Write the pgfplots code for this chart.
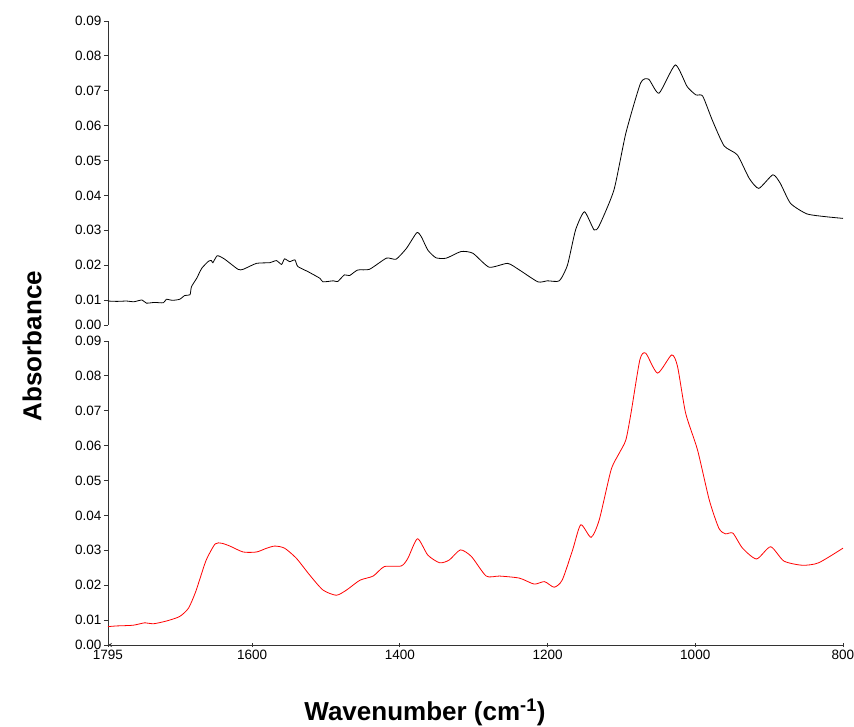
\documentclass[border=0pt]{standalone}
\usepackage{fontspec}
\setmainfont{Liberation Sans}
\usepackage{pgfplots}
\pgfplotsset{compat=1.18}
\begin{document}
\begin{tikzpicture}[x=1pt,y=1pt]
\useasboundingbox (0,0) rectangle (854,726);
\pgfplotsset{
  panel/.style={
    anchor=south west, scale only axis, width=735pt, height=304pt,
    xmin=800, xmax=1795, x dir=reverse,
    ymin=0.00283, ymax=0.09,
    scaled y ticks=false, scaled x ticks=false,
    axis y line=left, axis line style={-, line width=0.8pt, black!80},
    ytick={0.00283,0.01,0.02,0.03,0.04,0.05,0.06,0.07,0.08,0.09},
    yticklabels={0.00,0.01,0.02,0.03,0.04,0.05,0.06,0.07,0.08,0.09},
    tick align=outside, major tick length=4pt,
    tick style={line width=0.8pt, black!80},
    ticklabel style={font=\fontsize{13.5}{15}\selectfont},
    yticklabel style={xshift=1pt},
    clip=false,
  }
}
% top panel
\begin{axis}[panel, at={(108pt,401pt)}, axis x line=none]
\addplot[black, line width=0.8pt, smooth, tension=0.35] coordinates {
(1795,0.0097) (1783,0.0096) (1770,0.0097) (1760,0.0095) (1749,0.0100) (1743,0.0091) (1732,0.0093) (1720,0.0092) (1716,0.0102)
(1708,0.0099) (1698,0.0102) (1691,0.0113) (1684,0.0115) (1682,0.0138) (1675,0.0162) (1668,0.0191)
(1659,0.0211) (1655,0.0213) (1653,0.0207) (1647,0.0227) (1637,0.0217) (1619,0.0188)
(1612,0.0188) (1594,0.0205) (1576,0.0207) (1567,0.0213) (1560,0.0202) (1556,0.0218)
(1549,0.0210) (1542,0.0215) (1538,0.0196) (1524,0.0181) (1508,0.0162) (1504,0.0152)
(1490,0.0155) (1484,0.0153) (1475,0.0172) (1468,0.0170) (1457,0.0186) (1441,0.0188)
(1418,0.0220) (1405,0.0217) (1391,0.0248) (1377,0.0293) (1371,0.0282) (1362,0.0243)
(1351,0.0221) (1337,0.0220) (1317,0.0239) (1301,0.0234) (1279,0.0194) (1254,0.0205)
(1238,0.0186) (1213,0.0152) (1200,0.0155) (1184,0.0155) (1173,0.0200) (1162,0.0301)
(1150,0.0353) (1137,0.0301) (1130,0.0313) (1110,0.0416) (1094,0.0578) (1074,0.0722)
(1063,0.0733) (1049,0.0693) (1027,0.0774) (1011,0.0712) (999,0.0688) (990,0.0685)
(977,0.0616) (961,0.0542) (943,0.0516) (927,0.0449) (914,0.0420) (895,0.0459)
(885,0.0435) (871,0.0377) (849,0.0347) (824,0.0339) (800,0.0334)
};
\end{axis}
% bottom panel
\begin{axis}[panel, at={(108pt,81pt)}, axis x line=bottom,
  xtick={1795,1600,1400,1200,1000,800},
  xticklabels={1795,1600,1400,1200,1000,800}]
\addplot[red, line width=0.8pt, smooth, tension=0.4] coordinates {
(1795,0.0081) (1783,0.0083) (1761,0.0085) (1745,0.0092) (1734,0.0089) (1716,0.0097)
(1698,0.0110) (1686,0.0134) (1677,0.0177) (1671,0.0215) (1662,0.0272) (1650,0.0318)
(1641,0.0320) (1630,0.0312) (1612,0.0295) (1594,0.0295) (1580,0.0306) (1569,0.0312)
(1556,0.0306) (1540,0.0277) (1522,0.0229) (1504,0.0186) (1486,0.0171) (1472,0.0186)
(1454,0.0214) (1436,0.0226) (1421,0.0253) (1398,0.0255) (1389,0.0277) (1376,0.0333)
(1362,0.0286) (1346,0.0264) (1333,0.0272) (1318,0.0301) (1303,0.0282) (1283,0.0226)
(1265,0.0226) (1238,0.0220) (1218,0.0203) (1204,0.0210) (1191,0.0194) (1180,0.0215)
(1166,0.0301) (1155,0.0373) (1141,0.0337) (1130,0.0387) (1114,0.0530) (1103,0.0578)
(1094,0.0616) (1087,0.0693) (1075,0.0846) (1067,0.0865) (1051,0.0808) (1032,0.0860)
(1024,0.0827) (1013,0.0693) (997,0.0588) (981,0.0444) (968,0.0363) (959,0.0347)
(949,0.0349) (936,0.0306) (917,0.0275) (898,0.0310) (880,0.0269) (855,0.0257)
(833,0.0264) (800,0.0306)
};
\end{axis}
\node[rotate=90, font=\fontsize{26}{30}\selectfont\bfseries] at (32,380) {Absorbance};
\node[font=\fontsize{26}{30}\selectfont\bfseries] at (425,14) {Wavenumber (cm\textsuperscript{-1})};
\end{tikzpicture}
\end{document}
